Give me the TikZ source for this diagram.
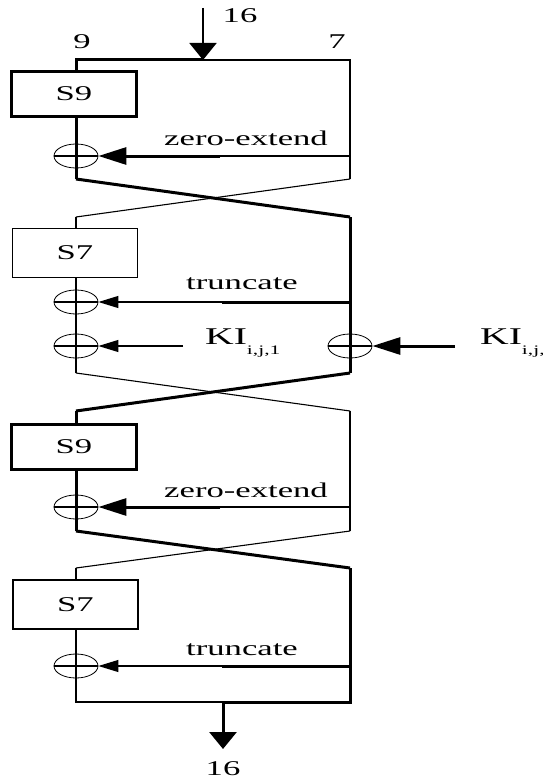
\documentclass[tikz,border=0pt]{standalone}
\usepackage{fontspec}
\usepackage{graphicx}
\setmainfont{Liberation Serif}
\usetikzlibrary{arrows.meta,shapes.geometric}
\newcommand\wide[1]{\scalebox{1.65}[1]{#1}}
\begin{document}
\begin{tikzpicture}[x=1pt,y=-1pt,
  thk/.style={line width=3pt},
  thn/.style={line width=1.1pt},
  lbl/.style={inner sep=0pt,font=\fontsize{21}{24}\selectfont},
  sboxthick/.style={draw,line width=3pt,minimum width=125pt,minimum height=45pt,inner sep=0pt,font=\fontsize{21}{24}\selectfont},
  sboxthin/.style={draw,line width=1.2pt,minimum width=125pt,minimum height=49pt,inner sep=0pt,font=\fontsize{21}{24}\selectfont},
  xorn/.style={draw,ellipse,line width=0.8pt,minimum width=44pt,minimum height=24pt,inner sep=0pt},
  bighead/.style={-{Triangle[length=28pt,width=17pt]}},
  smallhead/.style={-{Triangle[length=20pt,width=12pt]}},
  vhead/.style={-{Triangle[length=17pt,width=27pt]}}
]
\useasboundingbox (0,0) rectangle (542,781);
\fill[white] (0,0) rectangle (542,781);

% ---------- coordinates ----------
\def\L{76}\def\R{350}
\coordinate (tl) at (\L,60);
\coordinate (tr) at (\R,60);
\coordinate (tin) at (203,60);
\coordinate (tinstart) at (203,8);

% section 1
\node[sboxthick] (s9a) at (74,94) {\wide{S9}};
\node[xorn] (x1) at (\L,156) {};
\coordinate (a1b) at (\L,179);
\coordinate (b1b) at (\R,179);
\coordinate (ze1) at (\R,156);
\coordinate (ze1m) at (220,156);

% section 2
\coordinate (a2t) at (\L,217);
\coordinate (b2t) at (\R,217);
\node[sboxthin] (s7a) at (75,253) {\wide{S7}};
\node[xorn] (x2) at (\L,302) {};
\node[xorn] (x3) at (\L,346) {};
\node[xorn] (x4) at (\R,346) {};
\coordinate (tr1) at (\R,302);
\coordinate (tr1m) at (222,302);
\coordinate (k1) at (183,346);
\coordinate (k2) at (455,346);
\coordinate (a2b) at (\L,373);
\coordinate (b2b) at (\R,373);

% section 3
\coordinate (a3t) at (\L,411);
\coordinate (b3t) at (\R,411);
\node[sboxthick] (s9b) at (74,446.5) {\wide{S9}};
\node[xorn] (x5) at (\L,507) {};
\coordinate (ze2) at (\R,507);
\coordinate (ze2m) at (220,507);
\coordinate (a3b) at (\L,531);
\coordinate (b3b) at (\R,531);

% section 4
\coordinate (a4t) at (\L,568);
\coordinate (b4t) at (\R,568);
\node[sboxthin] (s7b) at (75.5,604.5) {\wide{S7}};
\node[xorn] (x6) at (\L,666) {};
\coordinate (tr2) at (\R,666);
\coordinate (tr2m) at (222,666);
\coordinate (bl) at (\L,702);
\coordinate (br) at (\R,702);
\coordinate (bout) at (223,702);
\coordinate (boutend) at (223,749);

% ---------- top ----------
\draw[line width=2pt,vhead] (tinstart) -- (tin);
\draw[thk] (s9a.north -| tl) -- (tl) -- (tin);
\draw[thn] (tin) -- (tr) -- (b1b);

% section 1 left
\draw[thk] (s9a.south -| x1) -- (a1b);
\draw[thn] (x1.west) -- (x1.east);
\draw[thn] (ze1) -- (ze1m);
\draw[thk,bighead] (ze1m) -- (x1.east);

% crossing 1
\draw[thk] (a1b) -- (b2t);
\draw[thn] (b1b) -- (a2t);

% section 2
\draw[thn] (a2t) -- (s7a.north -| a2t);
\draw[thn] (s7a.south -| a2t) -- (a2b);
\draw[thk] (b2t) -- (b2b);
\draw[thn] (x2.west) -- (x2.east);
\draw[thn] (x3.west) -- (x3.east);
\draw[thn] (x4.west) -- (x4.east);
\draw[thk] (tr1) -- (tr1m);
\draw[thn,smallhead] (tr1m) -- (x2.east);
\draw[thn,smallhead] (k1) -- (x3.east);
\draw[thk,bighead] (k2) -- (x4.east);

% crossing 2
\draw[thk] (b2b) -- (a3t);
\draw[thn] (a2b) -- (b3t);

% section 3
\draw[thk] (a3t) -- (s9b.north -| a3t);
\draw[thk] (s9b.south -| a3t) -- (a3b);
\draw[thn] (b3t) -- (b3b);
\draw[thn] (x5.west) -- (x5.east);
\draw[thn] (ze2) -- (ze2m);
\draw[thk,bighead] (ze2m) -- (x5.east);

% crossing 3
\draw[thk] (a3b) -- (b4t);
\draw[thn] (b3b) -- (a4t);

% section 4
\draw[thn] (a4t) -- (s7b.north -| a4t);
\draw[thn] (s7b.south -| a4t) -- (bl) -- (bout);
\draw[thk] (b4t) -- (br) -- (bout);
\draw[thn] (x6.west) -- (x6.east);
\draw[thk] (tr2) -- (tr2m);
\draw[thn,smallhead] (tr2m) -- (x6.east);
\draw[thk,vhead] (bout) -- (boutend);

% ---------- labels ----------
\node[lbl] (n16a) at (240,16) {\wide{16}};
\node[lbl] (n9) at (82,42) {\wide{9}};
\node[lbl] (n7) at (337,42) {\wide{7}};
\node[lbl] (zeA) at (246,138) {\wide{zero-extend}};
\node[lbl] (trA) at (242,284) {\wide{truncate}};
\node[lbl,anchor=west] (ki1) at (205,343) {\wide{\fontsize{24}{26}\selectfont KI\raisebox{-0.45em}{\fontsize{13}{14}\selectfont i,j,1}}};
\node[lbl,anchor=west] (ki2) at (480,343) {\wide{\fontsize{24}{26}\selectfont KI\raisebox{-0.45em}{\fontsize{13}{14}\selectfont i,j,2}}};
\node[lbl] (zeB) at (246,490) {\wide{zero-extend}};
\node[lbl] (trB) at (242,650) {\wide{truncate}};
\node[lbl] (n16b) at (223,769) {\wide{16}};
\end{tikzpicture}
\end{document}
